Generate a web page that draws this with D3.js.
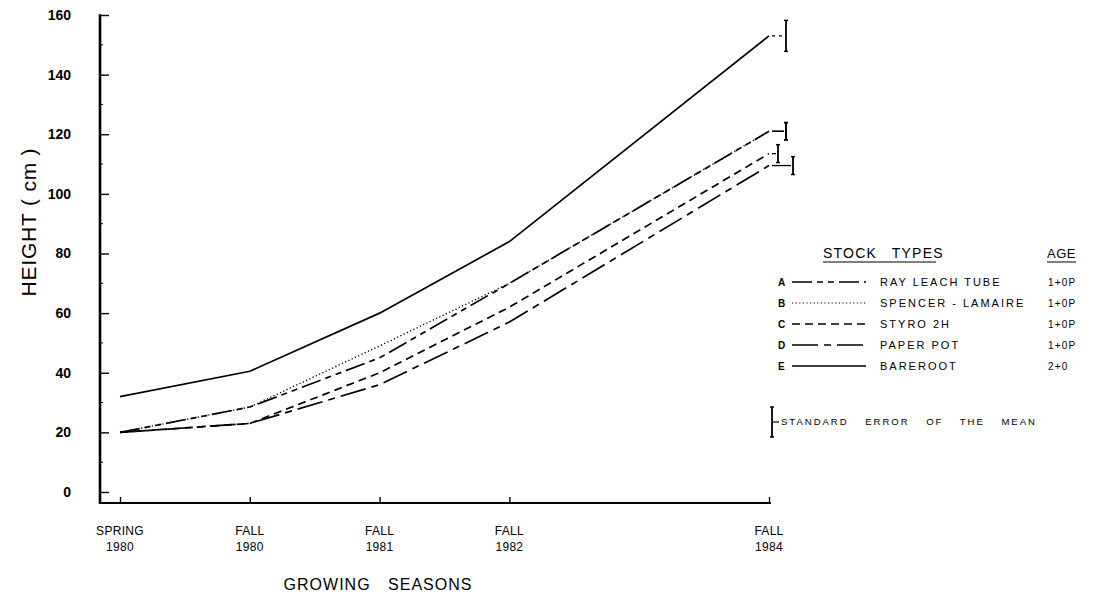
<!DOCTYPE html>
<html>
<head>
<meta charset="utf-8">
<script src="https://cdn.jsdelivr.net/npm/d3@7"></script>
<style>
  body { margin: 0; background: #fff; }
  svg { display: block; font-family: "Liberation Sans", "DejaVu Sans", sans-serif; }
  .axis text { fill: #000; }
</style>
</head>
<body>
<div class="height-chart-container"></div>
<script>
// Data.
const seasonLabels = [['SPRING', '1980'], ['FALL', '1980'], ['FALL', '1981'], ['FALL', '1982'], ['FALL', '1984']];
const seasonPos = [0, 1, 2, 3, 5];
const stockKeys = ['A', 'B', 'C', 'D', 'E'];
const stockNames = ['RAY LEACH TUBE', 'SPENCER - LAMAIRE', 'STYRO 2H', 'PAPER POT', 'BAREROOT'];
const stockAges = ['1+0P', '1+0P', '1+0P', '1+0P', '2+0'];
const heightA = [20, 28.5, 45, 70, 121];
const heightB = [20, 28.5, 49, 70, 121];
const heightC = [20, 23, 40, 62, 113.5];
const heightD = [20, 23, 36, 57, 109.5];
const heightE = [32, 40.5, 60, 84, 153];
const seFinal = [2.9, 2.9, 3, 3, 5.2];
const yTicks = [0, 20, 40, 60, 80, 100, 120, 140, 160];

// Styles per stock type.
const dashes = { A: '20,5,6,5,6,5', B: '1.2,2.4', C: '8,5', D: '26,6,7,6', E: null };
const barOffset = { A: 17, B: 17, C: 9, D: 24, E: 17 };

const series = stockKeys.map((k, i) => ({
  key: k,
  values: [heightA, heightB, heightC, heightD, heightE][i],
  se: seFinal[i]
}));

// Layout.
const W = 1111, H = 601;
const axisX = 100, axisBottom = 503;

const xScale = d3.scaleLinear().domain([0, 5]).range([120, 769]);
const yScale = d3.scaleLinear().domain([0, 160]).range([492, 15]);

const svg = d3.select('.height-chart-container')
  .append('svg')
  .attr('width', W)
  .attr('height', H);

// Y axis.
const yAxis = d3.axisLeft(yScale)
  .tickValues(yTicks)
  .tickSizeInner(-9)
  .tickSizeOuter(0)
  .tickPadding(29);

const yAxisDraw = svg.append('g')
  .attr('class', 'y axis')
  .attr('transform', `translate(${axisX},0)`)
  .call(yAxis);

yAxisDraw.select('.domain').remove();
yAxisDraw.selectAll('line').attr('stroke', '#000').attr('stroke-width', 1.4);
yAxisDraw.selectAll('text')
  .style('font-size', '14px')
  .style('font-weight', 'bold');

// minor ticks
svg.append('g')
  .selectAll('line')
  .data(d3.range(10, 160, 20))
  .join('line')
  .attr('x1', axisX).attr('x2', axisX + 3)
  .attr('y1', d => yScale(d)).attr('y2', d => yScale(d))
  .attr('stroke', '#000').attr('stroke-width', 1);

svg.append('line')
  .attr('x1', axisX).attr('x2', axisX)
  .attr('y1', yScale(160) - 0.7).attr('y2', axisBottom + 1)
  .attr('stroke', '#000').attr('stroke-width', 2.6);

// X axis.
const xAxis = d3.axisBottom(xScale)
  .tickValues(seasonPos)
  .tickSizeInner(-6)
  .tickSizeOuter(0)
  .tickFormat('');

const xAxisDraw = svg.append('g')
  .attr('class', 'x axis')
  .attr('transform', `translate(0,${axisBottom})`)
  .call(xAxis);

xAxisDraw.select('.domain').remove();
xAxisDraw.selectAll('line').attr('stroke', '#000').attr('stroke-width', 1.4);

svg.append('line')
  .attr('x1', axisX).attr('x2', xScale(5) + 2)
  .attr('y1', axisBottom).attr('y2', axisBottom)
  .attr('stroke', '#000').attr('stroke-width', 1.8);

const xLabels = svg.append('g')
  .selectAll('text')
  .data(seasonPos)
  .join('text')
  .attr('text-anchor', 'middle')
  .style('font-size', '12px')
  .style('letter-spacing', '0.3px');

xLabels.append('tspan')
  .attr('x', d => xScale(d))
  .attr('y', 535)
  .text((d, i) => seasonLabels[i][0]);

xLabels.append('tspan')
  .attr('x', d => xScale(d))
  .attr('y', 551)
  .text((d, i) => seasonLabels[i][1]);

// Axis titles.
svg.append('text')
  .attr('x', 378)
  .attr('y', 590)
  .attr('text-anchor', 'middle')
  .style('font-size', '16px')
  .style('letter-spacing', '1px')
  .style('word-spacing', '12px')
  .text('GROWING SEASONS');

svg.append('text')
  .attr('transform', 'translate(36,222) rotate(-90)')
  .attr('text-anchor', 'middle')
  .style('font-size', '21px')
  .style('letter-spacing', '0.8px')
  .text('HEIGHT ( cm )');

// Lines.
const line = d3.line()
  .x((d, i) => xScale(seasonPos[i]))
  .y(d => yScale(d));

svg.append('g')
  .attr('class', 'lines')
  .selectAll('path')
  .data(series)
  .join('path')
  .attr('d', d => line(d.values))
  .attr('fill', 'none')
  .attr('stroke', '#000')
  .attr('stroke-width', d => d.key === 'B' ? 1.4 : 1.7)
  .attr('stroke-dasharray', d => dashes[d.key]);

// Standard error bars at the last season.
const last = seasonPos.length - 1;
const errG = svg.append('g').attr('class', 'errors');

series.forEach(s => {
  const bx = xScale(seasonPos[last]) + barOffset[s.key];
  const m = s.values[last];
  const g = errG.append('g').attr('stroke', '#000');
  g.append('line')
    .attr('x1', bx).attr('x2', bx)
    .attr('y1', yScale(m + s.se)).attr('y2', yScale(m - s.se))
    .attr('stroke-width', 1.8);
  [m + s.se, m - s.se].forEach(v => {
    g.append('line')
      .attr('x1', bx - 2).attr('x2', bx + 2)
      .attr('y1', yScale(v)).attr('y2', yScale(v))
      .attr('stroke-width', 1.5);
  });
  g.append('line')
    .attr('x1', xScale(seasonPos[last]) + 3).attr('x2', bx - 2)
    .attr('y1', yScale(m)).attr('y2', yScale(m))
    .attr('stroke-width', 1.3)
    .attr('stroke-dasharray', s.key === 'E' ? '3,4' : null);
});

// Legend.
const legend = svg.append('g').attr('class', 'legend');

legend.append('text')
  .attr('x', 823).attr('y', 258)
  .style('font-size', '14px')
  .style('letter-spacing', '1.2px')
  .style('word-spacing', '10px')
  .text('STOCK TYPES');
legend.append('line')
  .attr('x1', 823).attr('x2', 936).attr('y1', 262).attr('y2', 262)
  .attr('stroke', '#000').attr('stroke-width', 1);

legend.append('text')
  .attr('x', 1047).attr('y', 258)
  .style('font-size', '13px')
  .style('letter-spacing', '0.5px')
  .text('AGE');
legend.append('line')
  .attr('x1', 1047).attr('x2', 1076).attr('y1', 262).attr('y2', 262)
  .attr('stroke', '#000').attr('stroke-width', 1);

const rowY = d3.scalePoint().domain(stockKeys).range([282, 366]);

const rows = legend.selectAll('.row')
  .data(series)
  .join('g')
  .attr('class', 'row')
  .attr('transform', d => `translate(0,${rowY(d.key)})`);

rows.append('text')
  .attr('x', 778).attr('y', 4)
  .style('font-size', '10px')
  .style('font-weight', 'bold')
  .text(d => d.key);

rows.append('line')
  .attr('x1', 792).attr('x2', 866)
  .attr('y1', 0).attr('y2', 0)
  .attr('stroke', '#000')
  .attr('stroke-width', d => d.key === 'B' ? 1.2 : 1.5)
  .attr('stroke-dasharray', d => dashes[d.key]);

rows.append('text')
  .attr('x', 880).attr('y', 4)
  .style('font-size', '11px')
  .style('letter-spacing', '2px')
  .text((d, i) => stockNames[i]);

rows.append('text')
  .attr('x', 1048).attr('y', 4)
  .style('font-size', '10px')
  .style('letter-spacing', '1.2px')
  .text((d, i) => stockAges[i]);

// Standard error key.
const se = legend.append('g').attr('stroke', '#000');
se.append('line').attr('x1', 772).attr('x2', 772).attr('y1', 407).attr('y2', 437).attr('stroke-width', 1.8);
se.append('line').attr('x1', 770).attr('x2', 774).attr('y1', 407).attr('y2', 407).attr('stroke-width', 1.5);
se.append('line').attr('x1', 770).attr('x2', 774).attr('y1', 437).attr('y2', 437).attr('stroke-width', 1.5);
se.append('line').attr('x1', 773).attr('x2', 779).attr('y1', 422).attr('y2', 422).attr('stroke-width', 1.2);

legend.append('text')
  .attr('x', 781).attr('y', 425)
  .style('font-size', '9.5px')
  .style('letter-spacing', '2px')
  .style('word-spacing', '12px')
  .text('STANDARD ERROR OF THE MEAN');
</script>
</body>
</html>
